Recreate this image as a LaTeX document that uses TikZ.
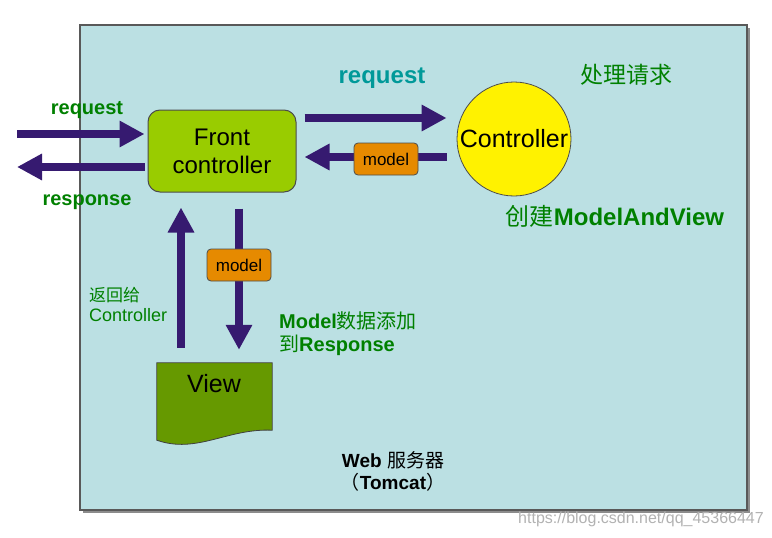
\documentclass[tikz,border=0pt]{standalone}
\usepackage{fontspec}
\setmainfont{Liberation Sans}
\newfontfamily\cjk{Noto Sans CJK SC}
\usetikzlibrary{arrows.meta}
\definecolor{panelcol}{HTML}{BBE0E3}
\definecolor{fcgreen}{HTML}{99CC00}
\definecolor{viewgreen}{HTML}{669900}
\definecolor{arrowpurple}{HTML}{361A70}
\definecolor{modelorange}{HTML}{E68A00}
\definecolor{txtgreen}{HTML}{008000}
\definecolor{tealtxt}{HTML}{009999}
\newcommand{\fs}[1]{\fontsize{#1}{#1}\selectfont}
\begin{document}
\begin{tikzpicture}[x=1pt,y=-1pt,
  bigarrow/.style={arrowpurple, line width=8pt, -{Triangle[length=25pt,width=25pt]}},
  modelbox/.style={draw=black!70, fill=modelorange, rounded corners=4pt, minimum width=64pt, minimum height=32pt, font=\fs{17}, inner sep=0pt, line width=0.8pt},
  lbl/.style={text=txtgreen, font=\bfseries\fs{20}},
  cjklbl/.style={text=txtgreen, font=\cjk\fs{23}}
]
\useasboundingbox (0,0) rectangle (772,538);
% panel with shadow
\fill[black!45] (83,28) rectangle (750,513);
\draw[fill=panelcol, draw=black!65, line width=1.2pt] (80,25) rectangle (747,510);

% main nodes
\node[draw=black!70, fill=fcgreen, rounded corners=12pt, minimum width=148pt, minimum height=82pt,
      align=center, font=\fs{24}, line width=1pt, inner sep=0pt] (fc) at (222,151) {Front\\[4pt]controller};
\node[circle, draw=black!70, fill=yellow, minimum size=114pt, inner sep=0pt, font=\fs{25}, line width=0.8pt] (ctrl) at (514,139) {Controller};
\node[minimum width=115pt, minimum height=77pt, inner sep=0pt] (view) at (214.5,401.5) {};
\fill[viewgreen, draw=black!75, line width=0.8pt]
  (view.north west) -- (view.north east) -- ([yshift=10pt]view.south east)
  .. controls ([xshift=-45pt,yshift=12pt]view.south east) and ([xshift=40pt,yshift=-14pt]view.south west) ..
  ([yshift=0pt]view.south west) -- cycle;
\node[font=\fs{25}] (viewtxt) at (214,384) {View};

% arrow anchor coordinates
\coordinate (reqin) at (17,134);
\coordinate (respout) at (17,167);
\coordinate (rq) at (0,118);
\coordinate (rt) at (0,157);
\coordinate (up) at (181,0);
\coordinate (down) at (239,0);

% left arrows
\draw[bigarrow, shorten >=3pt] (reqin) -- (reqin -| fc.west);
\draw[bigarrow, shorten <=3pt] (respout -| fc.west) -- (respout);
% right arrows
\draw[bigarrow, shorten <=8pt, shorten >=10pt] (fc.east |- rq) -- (ctrl.west |- rq);
\draw[bigarrow, shorten <=10pt, shorten >=8pt] (ctrl.west |- rt) -- (fc.east |- rt);
\node[modelbox] (m1) at (386,159) {model};
% vertical arrows
\draw[bigarrow, shorten <=15pt, shorten >=15pt] (view.north -| up) -- (fc.south -| up);
\draw[bigarrow, shorten <=16pt, shorten >=13pt] (fc.south -| down) -- (view.north -| down);
\node[modelbox] (m2) at (239,265) {model};

% labels
\node[lbl] (lreq) at (87,110) {request};
\node[lbl] (lresp) at (87,202) {response};
\node[text=tealtxt, font=\bfseries\fs{24}] (treq) at (382,78) {request};
\node[cjklbl] (proc) at (626,75) {处理请求};
\node[text=txtgreen, font=\fs{24}] (create) at (615,216) {{\cjk 创建}\textbf{ModelAndView}};
\node[text=txtgreen, align=left, anchor=north west, inner sep=0pt] (ret) at (89,287)
  {{\cjk\fs{17}返回给}\\[5pt]{\fs{18}Controller}};
\node[text=txtgreen, align=left, anchor=north west, inner sep=0pt, font=\fs{20}] (mdl) at (279,311)
  {\textbf{Model}{\cjk 数据添加}\\[3pt]{\cjk 到}\textbf{Response}};
\node[font=\fs{19}] (web) at (393,460) {\textbf{Web} {\cjk 服务器}};
\node[font=\fs{19}] (tom) at (393,482) {{\cjk （}\textbf{Tomcat}{\cjk ）}};
\node[text=black!30, font=\fs{16}] (wm) at (641,519) {https://blog.csdn.net/qq\_45366447};
\end{tikzpicture}
\end{document}
